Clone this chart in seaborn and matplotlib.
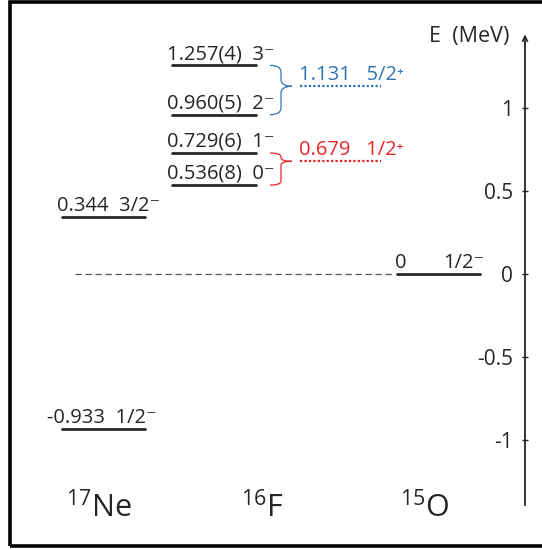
"""
Level scheme: 17Ne, 16F and 15O, drawn on one shared energy axis.
"""

import numpy as np
import pandas as pd
import matplotlib
matplotlib.use("Agg")
import matplotlib.pyplot as plt
from matplotlib.patches import Rectangle, PathPatch
from matplotlib.path import Path
import seaborn as sns

# ---------------------------------------------------------------------------
# Data
# ---------------------------------------------------------------------------
nuclei = ["$^{17}$Ne", "$^{16}$F", "$^{15}$O"]

ne_energies = [0.344, -0.933]
ne_labels = ["0.344  3/2\u207b", "-0.933  1/2\u207b"]

f_energies = [1.257, 0.960, 0.729, 0.536]
f_labels = ["1.257(4)  3\u207b", "0.960(5)  2\u207b",
            "0.729(6)  1\u207b", "0.536(8)  0\u207b"]

o_energies = [0.0]
o_values = ["0"]
o_spins = ["1/2\u207b"]

# p + 16F resonances, each bracketing a pair of 16F levels
res_energies = [1.131, 0.679]
res_labels = ["1.131   5/2\u207a", "0.679   1/2\u207a"]
res_pairs = [(0, 1), (2, 3)]
res_colors = ["#2E75B6", "#E8262A"]

yticks = [-1, -0.5, 0, 0.5, 1]
ytick_labels = ["-1", "-0.5", "0", "0.5", "1"]

# ---------------------------------------------------------------------------
# Style
# ---------------------------------------------------------------------------
sns.set_theme(style="white")
plt.rcParams["font.family"] = ["Open Sans", "DejaVu Sans"]
plt.rcParams["mathtext.fontset"] = "custom"
plt.rcParams["mathtext.rm"] = "Open Sans"
plt.rcParams["mathtext.it"] = "Open Sans"
plt.rcParams["mathtext.bf"] = "Open Sans"
plt.rcParams["axes.unicode_minus"] = False

LEVEL_COLOR = "#262626"
TEXT_COLOR = "#262626"
LAB_SIZE = 14.5

fig = plt.figure(figsize=(5.42, 5.5), dpi=100)
ax = fig.add_axes([0, 0, 1, 1])
# x in figure pixels (layout), y in MeV
ax.set_xlim(0, 542)
ax.set_ylim(-1.663, 1.651)
ax.patch.set_alpha(0)

# column extents for each nucleus
cols = {"Ne": (62, 145), "F": (172, 256), "O": (397, 480)}

# ---------------------------------------------------------------------------
# Level lines
# ---------------------------------------------------------------------------
rows = []
for key, energies in [("Ne", ne_energies), ("F", f_energies), ("O", o_energies)]:
    x0, x1 = cols[key]
    for i, e in enumerate(energies):
        rows.append({"x": x0, "E": e, "level": f"{key}{i}"})
        rows.append({"x": x1, "E": e, "level": f"{key}{i}"})
levels = pd.DataFrame(rows)
sns.lineplot(data=levels, x="x", y="E", units="level", estimator=None,
             color=LEVEL_COLOR, lw=2.0, legend=False, ax=ax)

# threshold line at 0
ax.plot([75, 393], [0, 0], ls=(0, (5, 3)), color="#555555", lw=0.9)

lab_kw = dict(textcoords="offset points", xytext=(0, 4.5), ha="left",
              va="baseline", fontsize=LAB_SIZE, color=TEXT_COLOR)
ne_x = [57, 47]
for e, lab, x in zip(ne_energies, ne_labels, ne_x):
    ax.annotate(lab, (x, e), **lab_kw)
for e, lab in zip(f_energies, f_labels):
    ax.annotate(lab, (167, e), **lab_kw)
for e, v, s in zip(o_energies, o_values, o_spins):
    ax.annotate(v, (395, e), **lab_kw)
    ax.annotate(s, (443, e), **lab_kw)


# ---------------------------------------------------------------------------
# Braces + resonances
# ---------------------------------------------------------------------------
def brace(ax, x0, y_top, y_bot, y_tip, color):
    xv, xt = x0 + 11, x0 + 22
    r = min(0.04, (y_top - y_tip) / 2.2, (y_tip - y_bot) / 2.2)
    verts = [(x0, y_top), (xv, y_top), (xv, y_top - r),
             (xv, y_tip + r),
             (xv, y_tip), (xt, y_tip),
             (xv, y_tip), (xv, y_tip - r),
             (xv, y_bot + r),
             (xv, y_bot), (x0, y_bot)]
    codes = [Path.MOVETO, Path.CURVE3, Path.CURVE3,
             Path.LINETO,
             Path.CURVE3, Path.CURVE3,
             Path.CURVE3, Path.CURVE3,
             Path.LINETO,
             Path.CURVE3, Path.CURVE3]
    ax.add_patch(PathPatch(Path(verts, codes), fill=False, ec=color, lw=0.9))


for e, lab, (a, b), c in zip(res_energies, res_labels, res_pairs, res_colors):
    brace(ax, 270, f_energies[a], f_energies[b], e, c)
    ax.plot([300, 381], [e, e], ls=(0, (1, 1.0)), color=c, lw=1.6)
    ax.annotate(lab, (299, e), textcoords="offset points", xytext=(0, 4.5),
                ha="left", va="baseline", fontsize=LAB_SIZE, color=c)

# ---------------------------------------------------------------------------
# Energy axis (left spine moved to the right side)
# ---------------------------------------------------------------------------
for s in ["top", "right", "bottom"]:
    ax.spines[s].set_visible(False)
ax.spines["left"].set_position(("data", 525))
ax.spines["left"].set_bounds(-1.39, 1.40)
ax.spines["left"].set_color("#262626")
ax.spines["left"].set_linewidth(1.3)
ax.set_xticks([])
ax.set_yticks(yticks)
ax.set_yticklabels(ytick_labels)
ax.tick_params(axis="y", direction="inout", length=5, width=1.0,
               color="#262626", labelsize=15, labelcolor=TEXT_COLOR, pad=6,
               left=True)
ax.set_xlabel("")
ax.set_ylabel("")
ax.annotate("", xy=(525, 1.46), xytext=(525, 1.36),
            arrowprops=dict(arrowstyle="->", lw=1.2, color="#262626",
                            mutation_scale=9))
ax.text(469, 1.434, "E  (MeV)", ha="center", va="center", fontsize=15.5,
        color=TEXT_COLOR)

# nucleus names
for name, x in zip(nuclei, [99, 262, 425]):
    ax.text(x, -1.464, name, ha="center", va="baseline", fontsize=22,
            color=TEXT_COLOR)

# frame around the picture
fig.add_artist(Rectangle((10 / 542, 4.5 / 550), 1.2, (548 - 4.5) / 550,
                         transform=fig.transFigure, fill=False, ec="black",
                         lw=2.6))

fig.savefig("out.png", dpi=100)
